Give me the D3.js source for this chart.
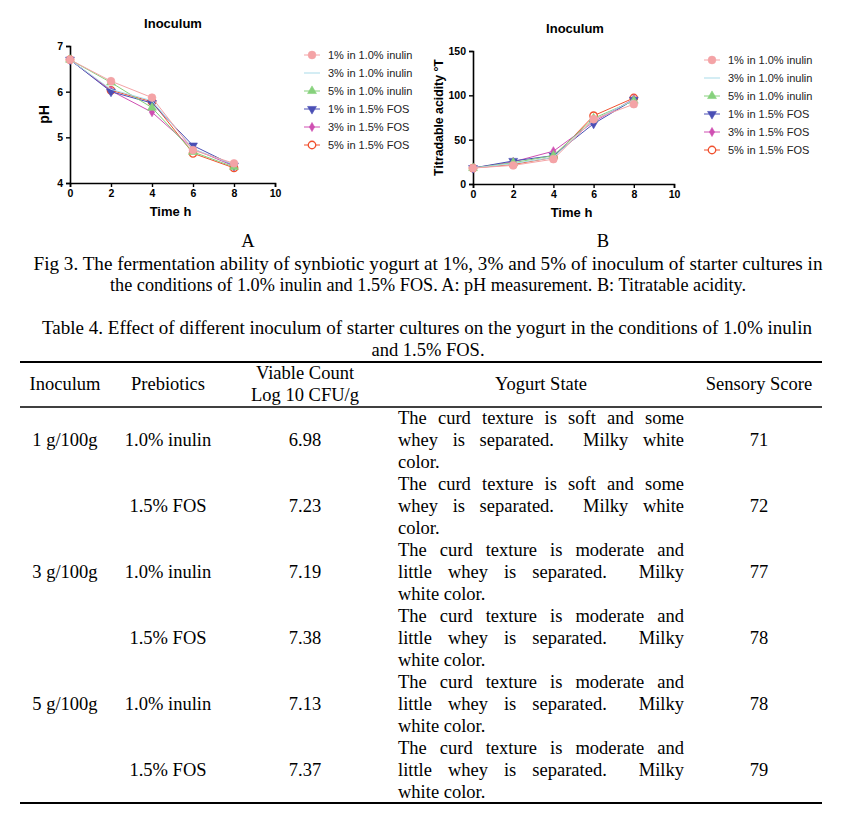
<!DOCTYPE html>
<html><head><meta charset="utf-8">
<script src="https://cdn.jsdelivr.net/npm/d3@7"></script>
<style>body{margin:0;background:#fff}svg{display:block}</style>
</head><body><svg id="c" width="857" height="827"></svg>
<script>
// ---------- data ----------
const timePoints = [0, 2, 4, 6, 8];
const seriesNames = ["1% in 1.0% inulin", "3% in 1.0% inulin", "5% in 1.0% inulin",
                     "1% in 1.5% FOS", "3% in 1.5% FOS", "5% in 1.5% FOS"];
const phValues = [
  [6.70, 6.23, 5.87, 4.72, 4.43],
  [6.70, 6.05, 5.80, 4.75, 4.40],
  [6.70, 6.20, 5.65, 4.68, 4.35],
  [6.70, 6.00, 5.75, 4.82, 4.38],
  [6.70, 6.02, 5.55, 4.75, 4.37],
  [6.70, 6.03, 5.78, 4.65, 4.33]
];
const taValues = [
  [18, 21, 28, 73, 90],
  [18, 23, 30, 72, 95],
  [18, 24, 32, 74, 94],
  [18, 26, 32, 68, 95],
  [18, 25, 37, 70, 96],
  [18, 22, 30, 77, 97]
];
const phTicks = [4, 5, 6, 7];
const taTicks = [0, 50, 100, 150];
const timeTicks = [0, 2, 4, 6, 8, 10];

const tableHeader = ["Inoculum", "Prebiotics", ["Viable Count", "Log 10 CFU/g"], "Yogurt State", "Sensory Score"];
const inoculumCol = ["1 g/100g", "", "3 g/100g", "", "5 g/100g", ""];
const prebioticCol = ["1.0% inulin", "1.5% FOS", "1.0% inulin", "1.5% FOS", "1.0% inulin", "1.5% FOS"];
const viableCol = ["6.98", "7.23", "7.19", "7.38", "7.13", "7.37"];
const stateCol = [
  ["The curd texture is soft and some", "whey is separated.  Milky white", "color."],
  ["The curd texture is soft and some", "whey is separated.  Milky white", "color."],
  ["The curd texture is moderate and", "little whey is separated.  Milky", "white color."],
  ["The curd texture is moderate and", "little whey is separated.  Milky", "white color."],
  ["The curd texture is moderate and", "little whey is separated.  Milky", "white color."],
  ["The curd texture is moderate and", "little whey is separated.  Milky", "white color."]
];
const sensoryCol = ["71", "72", "77", "78", "78", "79"];

// ---------- styles ----------
const colors = ["#f4a3a6", "#a9dbe9", "#86d17c", "#4a4fb5", "#cf4fb2", "#f0512f"];
const markers = ["circle", "none", "triUp", "triDown", "diamond", "openCircle"];

const svg = d3.select("#c");
const sans = "'Liberation Sans', Arial, sans-serif";
const serif = "'Liberation Serif', 'Times New Roman', serif";
const serifSize = 18.5;

function drawMarker(g, type, color, x, y) {
  if (type === "none") return;
  let sym, size, fill = color, stroke = color, rot = 0;
  if (type === "circle") { sym = d3.symbolCircle; size = 48; }
  else if (type === "openCircle") { sym = d3.symbolCircle; size = 44; fill = "#fff"; }
  else if (type === "triUp") { sym = d3.symbolTriangle; size = 34; }
  else if (type === "triDown") { sym = d3.symbolTriangle; size = 34; rot = 180; }
  else if (type === "diamond") { sym = d3.symbolDiamond; size = 24; }
  g.append("path").attr("d", d3.symbol().type(sym).size(size)())
    .attr("transform", `translate(${x},${y}) rotate(${rot})`)
    .attr("fill", fill).attr("stroke", stroke).attr("stroke-width", type === "openCircle" ? 1.3 : 0.6);
}

function drawChart(opt) {
  const g = svg.append("g");
  const x = d3.scaleLinear().domain([0, 10]).range([opt.x0, opt.x1]);
  const y = d3.scaleLinear().domain(opt.yDomain).range([opt.y0, opt.y1]);
  const xa = g.append("g").attr("transform", `translate(0,${opt.y0})`)
    .call(d3.axisBottom(x).tickValues(timeTicks).tickSize(4).tickPadding(3).tickFormat(d3.format("d")));
  const ya = g.append("g").attr("transform", `translate(${opt.x0},0)`)
    .call(d3.axisLeft(y).tickValues(opt.ticks).tickSize(4).tickPadding(3).tickFormat(d3.format("d")));
  [xa, ya].forEach(a => {
    a.select(".domain").attr("stroke", "#000").attr("stroke-width", 1.6);
    a.selectAll(".tick line").attr("stroke", "#000").attr("stroke-width", 1.4);
    a.selectAll("text").attr("font-family", sans).attr("font-weight", "bold").attr("font-size", 10.5).attr("fill", "#000");
  });
  g.append("text").attr("x", opt.titleX).attr("y", opt.titleY).attr("text-anchor", "middle")
    .attr("font-family", sans).attr("font-weight", "bold").attr("font-size", 13).text("Inoculum");
  g.append("text").attr("x", (opt.x0 + x(10)) / 2 - 2).attr("y", opt.y0 + 33).attr("text-anchor", "middle")
    .attr("font-family", sans).attr("font-weight", "bold").attr("font-size", 13).text("Time h");
  g.append("text").attr("transform", `translate(${opt.ylabX},${(opt.y0 + opt.y1) / 2}) rotate(-90)`)
    .attr("text-anchor", "middle").attr("font-family", sans).attr("font-weight", "bold")
    .attr("font-size", opt.ylabSize).text(opt.ylab);
  const line = d3.line().x((d, i) => x(timePoints[i])).y(d => y(d));
  for (let s = opt.values.length - 1; s >= 0; s--) {
    g.append("path").attr("d", line(opt.values[s])).attr("fill", "none")
      .attr("stroke", colors[s]).attr("stroke-width", 1);
    opt.values[s].forEach((v, i) => drawMarker(g, markers[s], colors[s], x(timePoints[i]), y(v)));
  }
  seriesNames.forEach((n, s) => {
    const ly = opt.legY + s * 18;
    g.append("line").attr("x1", opt.legX).attr("x2", opt.legX + 16).attr("y1", ly).attr("y2", ly)
      .attr("stroke", colors[s]).attr("stroke-width", 1);
    drawMarker(g, markers[s], colors[s], opt.legX + 8, ly);
    g.append("text").attr("x", opt.legX + 24).attr("y", ly + 4).attr("font-family", sans)
      .attr("font-size", 11).attr("fill", "#222").text(n);
  });
}

drawChart({ x0: 70, x1: 275, y0: 183, y1: 46, yDomain: [4, 7], ticks: phTicks, values: phValues,
  titleX: 173, titleY: 28, ylab: "pH", ylabX: 49, ylabSize: 14, legX: 304, legY: 55 });
drawChart({ x0: 473, x1: 674, y0: 184, y1: 51, yDomain: [0, 150], ticks: taTicks, values: taValues,
  titleX: 575, titleY: 33, ylab: "Titradable acidity °T", ylabX: 443, ylabSize: 12.3, legX: 704, legY: 60 });

// ---------- captions ----------
function serifText(x, y, t, anchor, width) {
  const el = svg.append("text").attr("x", x).attr("y", y).attr("text-anchor", anchor || "middle")
    .attr("font-family", serif).attr("font-size", serifSize).attr("fill", "#000").text(t);
  if (width) el.attr("textLength", width).attr("lengthAdjust", "spacingAndGlyphs");
  return el;
}
serifText(248, 247, "A");
serifText(603, 247, "B");
serifText(428, 270, "Fig 3. The fermentation ability of synbiotic yogurt at 1%, 3% and 5% of inoculum of starter cultures in", "middle", 789);
serifText(428, 291, "the conditions of 1.0% inulin and 1.5% FOS. A: pH measurement. B: Titratable acidity.", "middle", 636);
serifText(427, 334, "Table 4. Effect of different inoculum of starter cultures on the yogurt in the conditions of 1.0% inulin", "middle", 770);
serifText(428, 356, "and 1.5% FOS.", "middle");

// ---------- table ----------
const tl = 20, tr = 822;
svg.append("line").attr("x1", tl).attr("x2", tr).attr("y1", 362).attr("y2", 362).attr("stroke", "#000").attr("stroke-width", 2);
svg.append("line").attr("x1", tl).attr("x2", tr).attr("y1", 407).attr("y2", 407).attr("stroke", "#000").attr("stroke-width", 1.3);
svg.append("line").attr("x1", tl).attr("x2", tr).attr("y1", 803).attr("y2", 803).attr("stroke", "#000").attr("stroke-width", 2);

const colX = [65, 168, 305, 541, 759];
serifText(colX[0], 390, tableHeader[0]);
serifText(colX[1], 390, tableHeader[1]);
serifText(colX[2], 379, tableHeader[2][0]);
serifText(colX[2], 401, tableHeader[2][1]);
serifText(colX[3], 390, tableHeader[3]);
serifText(colX[4], 390, tableHeader[4]);

const stL = 398, stR = 684;
function justify(y, lineText, last) {
  const tokens = lineText.split(" ");
  if (last) { serifText(stL, y, lineText, "start"); return; }
  const widths = tokens.map(t => {
    const tmp = svg.append("text").attr("font-family", serif).attr("font-size", serifSize).text(t || "");
    const w = t ? tmp.node().getComputedTextLength() : 0; tmp.remove(); return w;
  });
  const total = d3.sum(widths);
  const gap = (stR - stL - total) / (tokens.length - 1);
  let cx = stL;
  tokens.forEach((t, i) => {
    if (t) serifText(cx, y, t, "start");
    cx += widths[i] + gap;
  });
}
stateCol.forEach((rowLines, r) => {
  const base = 424 + r * 66;
  rowLines.forEach((ln, k) => justify(base + k * 22, ln, k === rowLines.length - 1));
  const my = base + 22;
  if (inoculumCol[r]) serifText(colX[0], my, inoculumCol[r]);
  serifText(colX[1], my, prebioticCol[r]);
  serifText(colX[2], my, viableCol[r]);
  serifText(colX[4], my, sensoryCol[r]);
});
</script></body></html>
